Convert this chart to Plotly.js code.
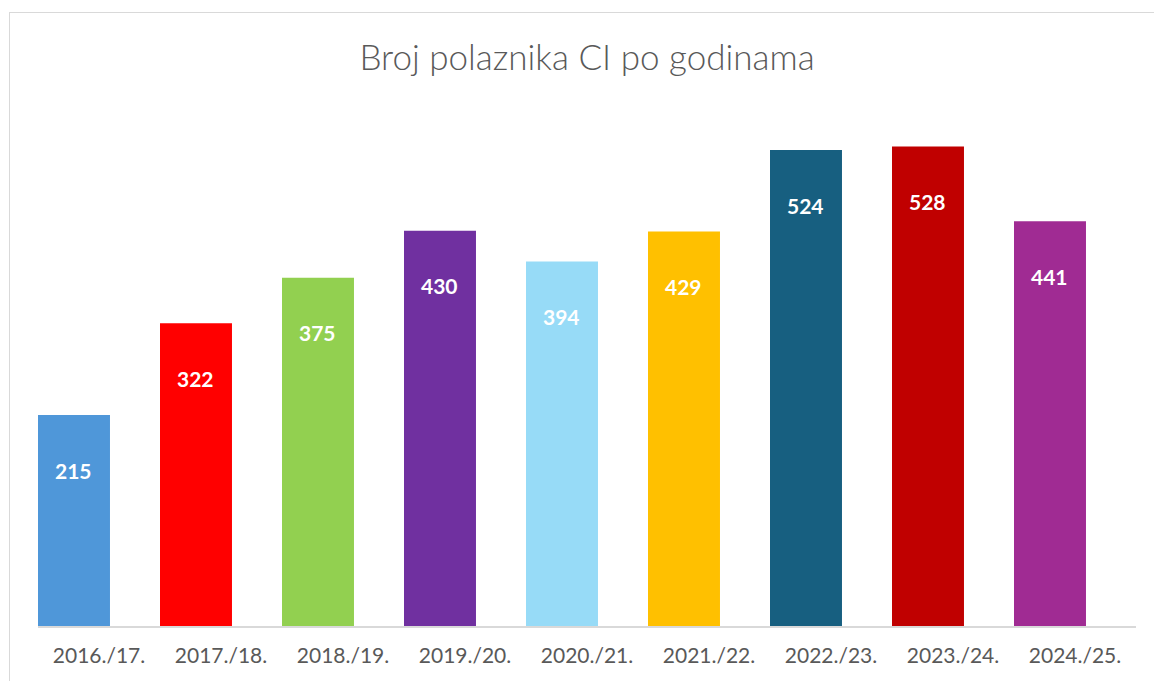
<!DOCTYPE html>
<html>
<head>
<meta charset="utf-8">
<script src="https://cdn.plot.ly/plotly-3.0.1.min.js"></script>
<style>
  html, body { margin: 0; padding: 0; background: #ffffff; }
  #wrap { position: relative; width: 1154px; height: 681px; overflow: hidden; }
  #chart { position: absolute; left: 0; top: 0; width: 1154px; height: 681px; }
  #frame { position: absolute; left: 9px; top: 12px; width: 1300px; height: 800px;
           border: 1.5px solid #d9d9d9; pointer-events: none; box-sizing: border-box; }
</style>
</head>
<body>
<div id="wrap">
  <div id="frame"></div>
  <div id="chart"></div>
</div>
<script>
// ---- data ----
const categories = ["2016./17.", "2017./18.", "2018./19.", "2019./20.", "2020./21.", "2021./22.", "2022./23.", "2023./24.", "2024./25."];
const values = [215, 322, 375, 430, 394, 429, 524, 528, 441];
const barColors = ["#4F97D9", "#FF0000", "#92D050", "#7030A0", "#97DBF7", "#FFC000", "#175F80", "#C00000", "#A02B93"];
const chartTitle = "Broj polaznika CI po godinama";

// ---- axis extent (value axis starts slightly below zero, as in the original) ----
const Y_MIN = -31;
const Y_MAX = 559;

// bar geometry (in category units), bars sit left of their tick label as in the original
const BAR_WIDTH = 0.59;
const BAR_OFFSET = -0.5;
const PLOT_W = 1154 - 38 - 18;
const SLOT_PX = PLOT_W / categories.length;
const LABEL_XSHIFT = (BAR_OFFSET + BAR_WIDTH / 2) * SLOT_PX;

const trace = {
  type: "bar",
  x: categories,
  y: values.map(v => v - Y_MIN),
  base: Y_MIN,
  width: BAR_WIDTH,
  offset: BAR_OFFSET,
  marker: { color: barColors, line: { width: 0 } },
  hoverinfo: "x+text",
  text: values.map(String),
  textposition: "none",
  showlegend: false
};

const annotations = categories.map((c, i) => ({
  x: c, y: values[i], xref: "x", yref: "y",
  text: "<b>" + values[i] + "</b>",
  showarrow: false, yanchor: "middle", yshift: -55, xshift: LABEL_XSHIFT,
  font: { family: "Lato, 'Open Sans', sans-serif", size: 21, color: "#ffffff" }
}));

const layout = {
  width: 1154, height: 681,
  margin: { l: 38, r: 18, t: 120, b: 55 },
  paper_bgcolor: "rgba(0,0,0,0)",
  plot_bgcolor: "rgba(0,0,0,0)",
  title: {
    text: chartTitle,
    x: 0.5, xref: "paper", xanchor: "center",
    y: 1 - 58 / 681, yref: "container", yanchor: "middle",
    font: { family: "Lato, 'Open Sans', sans-serif", size: 35, weight: 300, color: "#595959" }
  },
  xaxis: {
    type: "category",
    showline: true, linecolor: "#d9d9d9", linewidth: 1.5,
    ticks: "", showgrid: false, zeroline: false,
    tickfont: { family: "Lato, 'Open Sans', sans-serif", size: 21, color: "#595959" },
    ticklabelstandoff: 10,
    layer: "above traces"
  },
  yaxis: {
    range: [Y_MIN, Y_MAX],
    visible: false, showgrid: false, zeroline: false
  },
  annotations: annotations
};

Plotly.newPlot("chart", [trace], layout, { displayModeBar: false, staticPlot: true });
</script>
</body>
</html>
